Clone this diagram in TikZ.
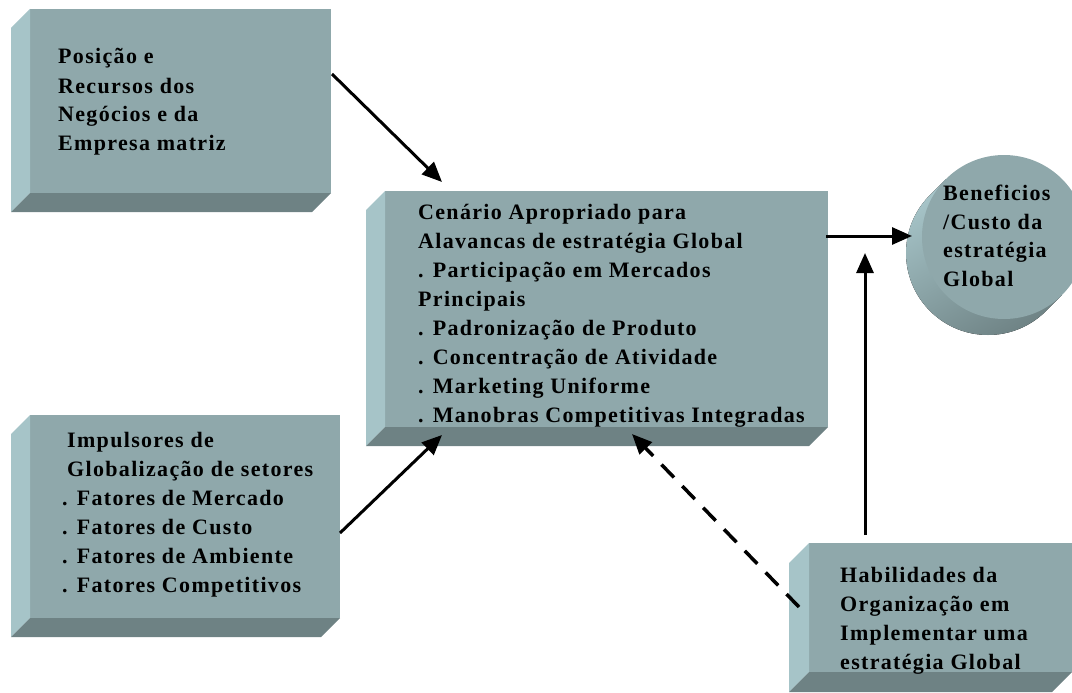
\documentclass[tikz,border=0pt]{standalone}
\usepackage{fontspec}
\setmainfont{Liberation Serif}[LetterSpace=6]
\usetikzlibrary{arrows.meta,calc}
\definecolor{facefront}{RGB}{143,168,171}
\definecolor{faceleft}{RGB}{166,196,200}
\definecolor{facebottom}{RGB}{110,130,132}

% left and bottom faces of an extruded box (node name, depth)
\newcommand\boxsides[2]{%
  \fill[faceleft] (#1.north west) -- ++(-#2,#2) -- ($(#1.south west)+(-#2,#2)$) -- (#1.south west) -- cycle;
  \fill[facebottom] (#1.south west) -- ++(-#2,#2) -- ($(#1.south east)+(-#2,#2)$) -- (#1.south east) -- cycle;
}
% a block of lines whose baseline is that of its first line
\newcommand\textlines[1]{\begin{tabular}[t]{@{}l@{}}#1\end{tabular}}

\begin{document}
\begin{tikzpicture}[x=1pt,y=-1pt,
  front/.style={fill=facefront, draw=none, inner sep=0pt, outer sep=0pt, anchor=north west},
  txt/.style={anchor=base west, inner sep=0pt, font=\bfseries\fontsize{22}{29}\selectfont},
  arr/.style={line width=3pt, -{Triangle[length=20pt,width=17pt]}},
]
\useasboundingbox (0,0) rectangle (1072,693);

% boxes
\node[front, minimum width=301pt, minimum height=184pt] (pos) at (30,9) {};
\boxsides{pos}{19}
\node[front, minimum width=443pt, minimum height=236pt] (cen) at (385,191) {};
\boxsides{cen}{19}
\node[front, minimum width=310pt, minimum height=203pt] (imp) at (30,415) {};
\boxsides{imp}{19}
\node[front, minimum width=263pt, minimum height=129pt] (hab) at (809,543) {};
\boxsides{hab}{20}

% cylinder seen end-on
\coordinate (bc) at (1004,237);
\fill[left color=faceleft, right color=facebottom, shading angle=30]
  ($(bc)+(225:82)$) -- ($(bc)+(-16,16)+(225:82)$)
  arc[start angle=225, end angle=45, radius=82]
  -- ($(bc)+(45:82)$) -- cycle;
\node[circle, fill=facefront, minimum size=164pt, inner sep=0pt] (ben) at (bc) {};

% texts
\node[txt] (tpos) at (58,64) {\textlines{Posição e\\Recursos dos\\Negócios e da\\Empresa matriz}};
\node[txt] (tcen) at (418,219) {\textlines{Cenário Apropriado para\\Alavancas de estratégia Global\\. Participação em Mercados\\Principais\\. Padronização de Produto\\. Concentração de Atividade\\. Marketing Uniforme\\. Manobras Competitivas Integradas}};
\node[txt] (timp) at (62,447) {\textlines{\hspace*{5pt}Impulsores de\\\hspace*{5pt}Globalização de setores\\. Fatores de Mercado\\. Fatores de Custo\\. Fatores de Ambiente\\. Fatores Competitivos}};
\node[txt] (thab) at (840,582) {\textlines{Habilidades da\\Organização em\\Implementar uma\\estratégia Global}};
\node[txt] (tben) at (943,200) {\textlines{Beneficios\\/Custo da\\estratégia\\Global}};

% connector ends
\coordinate (posout) at ($(pos.north east)+(1,65)$);
\coordinate (cenin1) at ($(cen.north west)+(57,-9)$);
\coordinate (impout) at ($(imp.north east)+(0,118)$);
\coordinate (cenin2) at ($(cen.south west)+(57,8)$);
\coordinate (habout) at ($(hab.north west)+(-10,64)$);
\coordinate (cenin3) at ($(cen.south west)+(247,7)$);
\coordinate (cenout) at ($(cen.north east)+(-2,45)$);
\coordinate (benin) at ($(bc)+(-92,-1)$);
\coordinate (habtop) at ($(hab.north west)+(56,-8)$);
\coordinate (benlow) at ($(bc)+(-139,16)$);

% connectors
\draw[arr] (posout) -- (cenin1);
\draw[arr] (impout) -- (cenin2);
\draw[arr, line width=3.5pt, dash pattern=on 18pt off 12pt] (habout) -- (cenin3);
\draw[arr] (cenout) -- (benin);
\draw[arr] (habtop) -- (benlow);
\end{tikzpicture}
\end{document}
